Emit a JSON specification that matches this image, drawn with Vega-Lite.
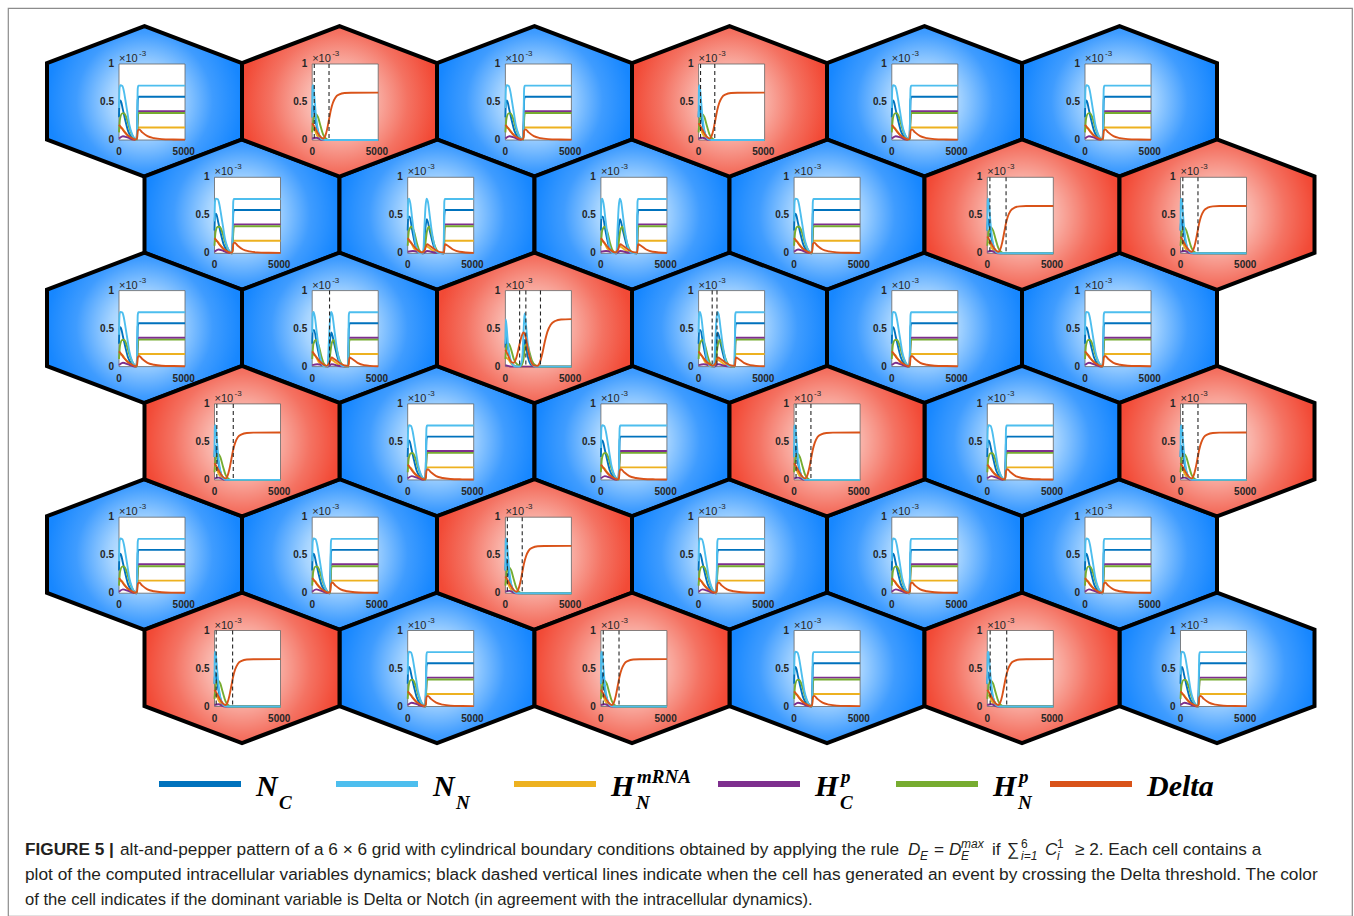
{
  "$schema": "https://vega.github.io/schema/vega-lite/v6.json",
  "width": 1354,
  "height": 916,
  "autosize": {"type": "fit", "contains": "padding"},
  "padding": {"left": 8, "top": 8, "right": 2, "bottom": 0},
  "background": "white",
  "config": {"view": {"stroke": "#8c8c8c", "strokeWidth": 1.2}},
  "datasets": {
    "cells": [
      {"i":0,"r":0,"c":0,"k":"N1"},{"i":1,"r":0,"c":1,"k":"D1"},{"i":2,"r":0,"c":2,"k":"N1"},{"i":3,"r":0,"c":3,"k":"D1"},{"i":4,"r":0,"c":4,"k":"N1"},{"i":5,"r":0,"c":5,"k":"N1"},
      {"i":6,"r":1,"c":0,"k":"N1"},{"i":7,"r":1,"c":1,"k":"N2"},{"i":8,"r":1,"c":2,"k":"N2"},{"i":9,"r":1,"c":3,"k":"N1"},{"i":10,"r":1,"c":4,"k":"D1"},{"i":11,"r":1,"c":5,"k":"D1"},
      {"i":12,"r":2,"c":0,"k":"N1"},{"i":13,"r":2,"c":1,"k":"N2"},{"i":14,"r":2,"c":2,"k":"D3"},{"i":15,"r":2,"c":3,"k":"N2"},{"i":16,"r":2,"c":4,"k":"N1"},{"i":17,"r":2,"c":5,"k":"N1"},
      {"i":18,"r":3,"c":0,"k":"D1"},{"i":19,"r":3,"c":1,"k":"N1"},{"i":20,"r":3,"c":2,"k":"N1"},{"i":21,"r":3,"c":3,"k":"D1"},{"i":22,"r":3,"c":4,"k":"N1"},{"i":23,"r":3,"c":5,"k":"D1"},
      {"i":24,"r":4,"c":0,"k":"N1"},{"i":25,"r":4,"c":1,"k":"N1"},{"i":26,"r":4,"c":2,"k":"D1"},{"i":27,"r":4,"c":3,"k":"N1"},{"i":28,"r":4,"c":4,"k":"N1"},{"i":29,"r":4,"c":5,"k":"N1"},
      {"i":30,"r":5,"c":0,"k":"D1"},{"i":31,"r":5,"c":1,"k":"N1"},{"i":32,"r":5,"c":2,"k":"D1"},{"i":33,"r":5,"c":3,"k":"N1"},{"i":34,"r":5,"c":4,"k":"D1"},{"i":35,"r":5,"c":5,"k":"N1"}
    ],
    "groups": [
      {"k":"N1","ids":[0,2,4,5,6,9,12,16,17,19,20,22,24,25,27,28,29,31,33,35]},
      {"k":"N2","ids":[7,8,13,15]},
      {"k":"D1","ids":[1,3,10,11,18,21,23,26,30,32,34]},
      {"k":"D3","ids":[14]}
    ],
    "events": [
      {"i":1,"t":160},{"i":1,"t":1300},{"i":3,"t":150},{"i":3,"t":1250},{"i":10,"t":200},{"i":10,"t":1450},{"i":11,"t":180},{"i":11,"t":1350},
      {"i":18,"t":180},{"i":18,"t":1450},{"i":21,"t":150},{"i":21,"t":1300},{"i":23,"t":180},{"i":23,"t":1350},{"i":26,"t":150},{"i":26,"t":1300},
      {"i":30,"t":130},{"i":30,"t":1400},{"i":32,"t":180},{"i":32,"t":1400},{"i":34,"t":220},{"i":34,"t":1500},
      {"i":14,"t":1100},{"i":14,"t":1580},{"i":14,"t":2710},{"i":13,"t":1340},{"i":15,"t":1050},{"i":15,"t":1420}
    ],
    "series": [
      {"k":"N1","s":"NC","t":0,"v":0.3},{"k":"N1","s":"NC","t":40,"v":0.5},{"k":"N1","s":"NC","t":120,"v":0.52},{"k":"N1","s":"NC","t":300,"v":0.4},{"k":"N1","s":"NC","t":500,"v":0.25},{"k":"N1","s":"NC","t":700,"v":0.12},{"k":"N1","s":"NC","t":900,"v":0.05},{"k":"N1","s":"NC","t":1150,"v":0.01},{"k":"N1","s":"NC","t":1360,"v":0},{"k":"N1","s":"NC","t":1410,"v":0.25},{"k":"N1","s":"NC","t":1450,"v":0.53},{"k":"N1","s":"NC","t":1510,"v":0.57},{"k":"N1","s":"NC","t":5100,"v":0.57},
      {"k":"N1","s":"HNm","t":0,"v":0.16},{"k":"N1","s":"HNm","t":200,"v":0.16},{"k":"N1","s":"HNm","t":400,"v":0.12},{"k":"N1","s":"HNm","t":700,"v":0.05},{"k":"N1","s":"HNm","t":1000,"v":0.01},{"k":"N1","s":"HNm","t":1350,"v":0},{"k":"N1","s":"HNm","t":1400,"v":0.08},{"k":"N1","s":"HNm","t":1440,"v":0.16},{"k":"N1","s":"HNm","t":1500,"v":0.165},{"k":"N1","s":"HNm","t":5100,"v":0.165},
      {"k":"N1","s":"HCp","t":0,"v":0.02},{"k":"N1","s":"HCp","t":300,"v":0.05},{"k":"N1","s":"HCp","t":700,"v":0.03},{"k":"N1","s":"HCp","t":1100,"v":0.005},{"k":"N1","s":"HCp","t":1360,"v":0},{"k":"N1","s":"HCp","t":1420,"v":0.2},{"k":"N1","s":"HCp","t":1470,"v":0.37},{"k":"N1","s":"HCp","t":1530,"v":0.38},{"k":"N1","s":"HCp","t":5100,"v":0.38},
      {"k":"N1","s":"HNp","t":0,"v":0.1},{"k":"N1","s":"HNp","t":80,"v":0.28},{"k":"N1","s":"HNp","t":250,"v":0.35},{"k":"N1","s":"HNp","t":400,"v":0.35},{"k":"N1","s":"HNp","t":600,"v":0.28},{"k":"N1","s":"HNp","t":800,"v":0.16},{"k":"N1","s":"HNp","t":1000,"v":0.07},{"k":"N1","s":"HNp","t":1200,"v":0.02},{"k":"N1","s":"HNp","t":1380,"v":0},{"k":"N1","s":"HNp","t":1430,"v":0.2},{"k":"N1","s":"HNp","t":1480,"v":0.34},{"k":"N1","s":"HNp","t":1540,"v":0.355},{"k":"N1","s":"HNp","t":5100,"v":0.355},
      {"k":"N1","s":"NN","t":0,"v":0.42},{"k":"N1","s":"NN","t":40,"v":0.68},{"k":"N1","s":"NN","t":100,"v":0.72},{"k":"N1","s":"NN","t":260,"v":0.71},{"k":"N1","s":"NN","t":380,"v":0.64},{"k":"N1","s":"NN","t":500,"v":0.52},{"k":"N1","s":"NN","t":650,"v":0.36},{"k":"N1","s":"NN","t":800,"v":0.2},{"k":"N1","s":"NN","t":1000,"v":0.08},{"k":"N1","s":"NN","t":1200,"v":0.015},{"k":"N1","s":"NN","t":1350,"v":0},{"k":"N1","s":"NN","t":1390,"v":0.1},{"k":"N1","s":"NN","t":1420,"v":0.45},{"k":"N1","s":"NN","t":1450,"v":0.68},{"k":"N1","s":"NN","t":1500,"v":0.715},{"k":"N1","s":"NN","t":5100,"v":0.715},
      {"k":"N1","s":"Delta","t":0,"v":0.2},{"k":"N1","s":"Delta","t":150,"v":0.17},{"k":"N1","s":"Delta","t":400,"v":0.11},{"k":"N1","s":"Delta","t":700,"v":0.06},{"k":"N1","s":"Delta","t":1000,"v":0.025},{"k":"N1","s":"Delta","t":1300,"v":0.005},{"k":"N1","s":"Delta","t":1400,"v":0.03},{"k":"N1","s":"Delta","t":1450,"v":0.12},{"k":"N1","s":"Delta","t":1550,"v":0.14},{"k":"N1","s":"Delta","t":1800,"v":0.1},{"k":"N1","s":"Delta","t":2200,"v":0.05},{"k":"N1","s":"Delta","t":2700,"v":0.025},{"k":"N1","s":"Delta","t":3300,"v":0.012},{"k":"N1","s":"Delta","t":4200,"v":0.007},{"k":"N1","s":"Delta","t":5100,"v":0.005},

      {"k":"N2","s":"NC","t":0,"v":0.3},{"k":"N2","s":"NC","t":40,"v":0.48},{"k":"N2","s":"NC","t":150,"v":0.48},{"k":"N2","s":"NC","t":350,"v":0.3},{"k":"N2","s":"NC","t":600,"v":0.1},{"k":"N2","s":"NC","t":900,"v":0.01},{"k":"N2","s":"NC","t":1200,"v":0},{"k":"N2","s":"NC","t":1350,"v":0.3},{"k":"N2","s":"NC","t":1480,"v":0.45},{"k":"N2","s":"NC","t":1700,"v":0.3},{"k":"N2","s":"NC","t":2000,"v":0.1},{"k":"N2","s":"NC","t":2300,"v":0.01},{"k":"N2","s":"NC","t":2780,"v":0},{"k":"N2","s":"NC","t":2830,"v":0.5},{"k":"N2","s":"NC","t":2890,"v":0.57},{"k":"N2","s":"NC","t":5100,"v":0.57},
      {"k":"N2","s":"HNm","t":0,"v":0.16},{"k":"N2","s":"HNm","t":200,"v":0.15},{"k":"N2","s":"HNm","t":500,"v":0.06},{"k":"N2","s":"HNm","t":900,"v":0.005},{"k":"N2","s":"HNm","t":1200,"v":0},{"k":"N2","s":"HNm","t":1400,"v":0.1},{"k":"N2","s":"HNm","t":1600,"v":0.08},{"k":"N2","s":"HNm","t":2000,"v":0.03},{"k":"N2","s":"HNm","t":2400,"v":0.005},{"k":"N2","s":"HNm","t":2780,"v":0},{"k":"N2","s":"HNm","t":2820,"v":0.12},{"k":"N2","s":"HNm","t":2860,"v":0.165},{"k":"N2","s":"HNm","t":5100,"v":0.165},
      {"k":"N2","s":"HCp","t":0,"v":0.02},{"k":"N2","s":"HCp","t":400,"v":0.03},{"k":"N2","s":"HCp","t":1200,"v":0},{"k":"N2","s":"HCp","t":1500,"v":0.03},{"k":"N2","s":"HCp","t":2200,"v":0.005},{"k":"N2","s":"HCp","t":2790,"v":0},{"k":"N2","s":"HCp","t":2850,"v":0.37},{"k":"N2","s":"HCp","t":2910,"v":0.38},{"k":"N2","s":"HCp","t":5100,"v":0.38},
      {"k":"N2","s":"HNp","t":0,"v":0.1},{"k":"N2","s":"HNp","t":100,"v":0.3},{"k":"N2","s":"HNp","t":300,"v":0.35},{"k":"N2","s":"HNp","t":500,"v":0.28},{"k":"N2","s":"HNp","t":700,"v":0.14},{"k":"N2","s":"HNp","t":900,"v":0.04},{"k":"N2","s":"HNp","t":1150,"v":0.005},{"k":"N2","s":"HNp","t":1300,"v":0.05},{"k":"N2","s":"HNp","t":1500,"v":0.3},{"k":"N2","s":"HNp","t":1650,"v":0.35},{"k":"N2","s":"HNp","t":1850,"v":0.25},{"k":"N2","s":"HNp","t":2050,"v":0.12},{"k":"N2","s":"HNp","t":2250,"v":0.04},{"k":"N2","s":"HNp","t":2500,"v":0.005},{"k":"N2","s":"HNp","t":2790,"v":0},{"k":"N2","s":"HNp","t":2840,"v":0.3},{"k":"N2","s":"HNp","t":2900,"v":0.355},{"k":"N2","s":"HNp","t":5100,"v":0.355},
      {"k":"N2","s":"NN","t":0,"v":0.45},{"k":"N2","s":"NN","t":40,"v":0.7},{"k":"N2","s":"NN","t":100,"v":0.72},{"k":"N2","s":"NN","t":200,"v":0.66},{"k":"N2","s":"NN","t":350,"v":0.45},{"k":"N2","s":"NN","t":500,"v":0.25},{"k":"N2","s":"NN","t":650,"v":0.1},{"k":"N2","s":"NN","t":800,"v":0.02},{"k":"N2","s":"NN","t":950,"v":0},{"k":"N2","s":"NN","t":1200,"v":0.005},{"k":"N2","s":"NN","t":1280,"v":0.3},{"k":"N2","s":"NN","t":1380,"v":0.62},{"k":"N2","s":"NN","t":1460,"v":0.72},{"k":"N2","s":"NN","t":1560,"v":0.68},{"k":"N2","s":"NN","t":1700,"v":0.5},{"k":"N2","s":"NN","t":1850,"v":0.3},{"k":"N2","s":"NN","t":2000,"v":0.15},{"k":"N2","s":"NN","t":2150,"v":0.05},{"k":"N2","s":"NN","t":2300,"v":0.01},{"k":"N2","s":"NN","t":2770,"v":0},{"k":"N2","s":"NN","t":2800,"v":0.3},{"k":"N2","s":"NN","t":2830,"v":0.68},{"k":"N2","s":"NN","t":2880,"v":0.715},{"k":"N2","s":"NN","t":5100,"v":0.715},
      {"k":"N2","s":"Delta","t":0,"v":0.2},{"k":"N2","s":"Delta","t":300,"v":0.13},{"k":"N2","s":"Delta","t":700,"v":0.05},{"k":"N2","s":"Delta","t":1100,"v":0.01},{"k":"N2","s":"Delta","t":1300,"v":0.04},{"k":"N2","s":"Delta","t":1500,"v":0.12},{"k":"N2","s":"Delta","t":1700,"v":0.1},{"k":"N2","s":"Delta","t":2100,"v":0.05},{"k":"N2","s":"Delta","t":2500,"v":0.015},{"k":"N2","s":"Delta","t":2800,"v":0.01},{"k":"N2","s":"Delta","t":2880,"v":0.12},{"k":"N2","s":"Delta","t":3100,"v":0.1},{"k":"N2","s":"Delta","t":3500,"v":0.05},{"k":"N2","s":"Delta","t":4000,"v":0.02},{"k":"N2","s":"Delta","t":5100,"v":0.005},

      {"k":"D1","s":"NC","t":0,"v":0.3},{"k":"D1","s":"NC","t":40,"v":0.45},{"k":"D1","s":"NC","t":120,"v":0.42},{"k":"D1","s":"NC","t":300,"v":0.22},{"k":"D1","s":"NC","t":500,"v":0.08},{"k":"D1","s":"NC","t":700,"v":0.02},{"k":"D1","s":"NC","t":1000,"v":0},{"k":"D1","s":"NC","t":5100,"v":0},
      {"k":"D1","s":"HNm","t":0,"v":0.15},{"k":"D1","s":"HNm","t":150,"v":0.14},{"k":"D1","s":"HNm","t":350,"v":0.07},{"k":"D1","s":"HNm","t":600,"v":0.02},{"k":"D1","s":"HNm","t":900,"v":0},{"k":"D1","s":"HNm","t":5100,"v":0},
      {"k":"D1","s":"HCp","t":0,"v":0.02},{"k":"D1","s":"HCp","t":300,"v":0.03},{"k":"D1","s":"HCp","t":800,"v":0},{"k":"D1","s":"HCp","t":5100,"v":0},
      {"k":"D1","s":"HNp","t":0,"v":0.1},{"k":"D1","s":"HNp","t":100,"v":0.28},{"k":"D1","s":"HNp","t":300,"v":0.34},{"k":"D1","s":"HNp","t":450,"v":0.3},{"k":"D1","s":"HNp","t":650,"v":0.18},{"k":"D1","s":"HNp","t":850,"v":0.07},{"k":"D1","s":"HNp","t":1050,"v":0.02},{"k":"D1","s":"HNp","t":1300,"v":0},{"k":"D1","s":"HNp","t":5100,"v":0},
      {"k":"D1","s":"NN","t":0,"v":0.3},{"k":"D1","s":"NN","t":30,"v":0.7},{"k":"D1","s":"NN","t":80,"v":0.72},{"k":"D1","s":"NN","t":150,"v":0.6},{"k":"D1","s":"NN","t":300,"v":0.3},{"k":"D1","s":"NN","t":450,"v":0.12},{"k":"D1","s":"NN","t":600,"v":0.04},{"k":"D1","s":"NN","t":800,"v":0.005},{"k":"D1","s":"NN","t":1000,"v":0},{"k":"D1","s":"NN","t":5100,"v":0},
      {"k":"D1","s":"Delta","t":0,"v":0.22},{"k":"D1","s":"Delta","t":150,"v":0.18},{"k":"D1","s":"Delta","t":400,"v":0.1},{"k":"D1","s":"Delta","t":650,"v":0.04},{"k":"D1","s":"Delta","t":850,"v":0.02},{"k":"D1","s":"Delta","t":1000,"v":0.05},{"k":"D1","s":"Delta","t":1150,"v":0.14},{"k":"D1","s":"Delta","t":1300,"v":0.27},{"k":"D1","s":"Delta","t":1450,"v":0.4},{"k":"D1","s":"Delta","t":1600,"v":0.49},{"k":"D1","s":"Delta","t":1800,"v":0.56},{"k":"D1","s":"Delta","t":2100,"v":0.6},{"k":"D1","s":"Delta","t":2500,"v":0.618},{"k":"D1","s":"Delta","t":3000,"v":0.622},{"k":"D1","s":"Delta","t":5100,"v":0.623},

      {"k":"D3","s":"NC","t":0,"v":0.25},{"k":"D3","s":"NC","t":40,"v":0.4},{"k":"D3","s":"NC","t":150,"v":0.3},{"k":"D3","s":"NC","t":350,"v":0.1},{"k":"D3","s":"NC","t":600,"v":0.02},{"k":"D3","s":"NC","t":900,"v":0},{"k":"D3","s":"NC","t":1300,"v":0.05},{"k":"D3","s":"NC","t":1450,"v":0.35},{"k":"D3","s":"NC","t":1550,"v":0.3},{"k":"D3","s":"NC","t":1750,"v":0.12},{"k":"D3","s":"NC","t":2000,"v":0.02},{"k":"D3","s":"NC","t":2300,"v":0},{"k":"D3","s":"NC","t":5100,"v":0},
      {"k":"D3","s":"HNm","t":0,"v":0.12},{"k":"D3","s":"HNm","t":200,"v":0.1},{"k":"D3","s":"HNm","t":500,"v":0.03},{"k":"D3","s":"HNm","t":900,"v":0},{"k":"D3","s":"HNm","t":5100,"v":0},
      {"k":"D3","s":"HCp","t":0,"v":0.02},{"k":"D3","s":"HCp","t":500,"v":0},{"k":"D3","s":"HCp","t":5100,"v":0},
      {"k":"D3","s":"HNp","t":0,"v":0.1},{"k":"D3","s":"HNp","t":100,"v":0.28},{"k":"D3","s":"HNp","t":250,"v":0.3},{"k":"D3","s":"HNp","t":450,"v":0.22},{"k":"D3","s":"HNp","t":650,"v":0.1},{"k":"D3","s":"HNp","t":900,"v":0.03},{"k":"D3","s":"HNp","t":1200,"v":0.01},{"k":"D3","s":"HNp","t":1400,"v":0.1},{"k":"D3","s":"HNp","t":1550,"v":0.28},{"k":"D3","s":"HNp","t":1700,"v":0.3},{"k":"D3","s":"HNp","t":1850,"v":0.2},{"k":"D3","s":"HNp","t":2050,"v":0.08},{"k":"D3","s":"HNp","t":2300,"v":0.02},{"k":"D3","s":"HNp","t":2600,"v":0},{"k":"D3","s":"HNp","t":5100,"v":0},
      {"k":"D3","s":"NN","t":0,"v":0.3},{"k":"D3","s":"NN","t":20,"v":0.62},{"k":"D3","s":"NN","t":80,"v":0.55},{"k":"D3","s":"NN","t":200,"v":0.3},{"k":"D3","s":"NN","t":350,"v":0.12},{"k":"D3","s":"NN","t":500,"v":0.04},{"k":"D3","s":"NN","t":700,"v":0.005},{"k":"D3","s":"NN","t":1100,"v":0},{"k":"D3","s":"NN","t":1300,"v":0.1},{"k":"D3","s":"NN","t":1400,"v":0.45},{"k":"D3","s":"NN","t":1480,"v":0.7},{"k":"D3","s":"NN","t":1560,"v":0.6},{"k":"D3","s":"NN","t":1700,"v":0.35},{"k":"D3","s":"NN","t":1850,"v":0.15},{"k":"D3","s":"NN","t":2000,"v":0.05},{"k":"D3","s":"NN","t":2200,"v":0.01},{"k":"D3","s":"NN","t":2400,"v":0},{"k":"D3","s":"NN","t":5100,"v":0},
      {"k":"D3","s":"Delta","t":0,"v":0.22},{"k":"D3","s":"Delta","t":200,"v":0.15},{"k":"D3","s":"Delta","t":450,"v":0.06},{"k":"D3","s":"Delta","t":650,"v":0.05},{"k":"D3","s":"Delta","t":850,"v":0.12},{"k":"D3","s":"Delta","t":1050,"v":0.26},{"k":"D3","s":"Delta","t":1250,"v":0.4},{"k":"D3","s":"Delta","t":1400,"v":0.45},{"k":"D3","s":"Delta","t":1550,"v":0.4},{"k":"D3","s":"Delta","t":1750,"v":0.22},{"k":"D3","s":"Delta","t":1950,"v":0.08},{"k":"D3","s":"Delta","t":2150,"v":0.02},{"k":"D3","s":"Delta","t":2450,"v":0.01},{"k":"D3","s":"Delta","t":2650,"v":0.05},{"k":"D3","s":"Delta","t":2850,"v":0.17},{"k":"D3","s":"Delta","t":3050,"v":0.33},{"k":"D3","s":"Delta","t":3250,"v":0.46},{"k":"D3","s":"Delta","t":3500,"v":0.55},{"k":"D3","s":"Delta","t":3850,"v":0.6},{"k":"D3","s":"Delta","t":4300,"v":0.62},{"k":"D3","s":"Delta","t":5100,"v":0.625}
    ],
    "legend": [
      {"s":"NC","idx":0,"main":"N","sub":"C","sup":""},
      {"s":"NN","idx":1,"main":"N","sub":"N","sup":""},
      {"s":"HNm","idx":2,"main":"H","sub":"N","sup":"mRNA"},
      {"s":"HCp","idx":3,"main":"H","sub":"C","sup":"p"},
      {"s":"HNp","idx":4,"main":"H","sub":"N","sup":"p"},
      {"s":"Delta","idx":5,"main":"Delta","sub":"","sup":""}
    ],
    "caption": [
      {"seg":0,"ln":0,"sty":"b","pos":"n","text":"FIGURE 5 |"},
      {"seg":1,"ln":0,"sty":"r","pos":"n","text":"alt-and-pepper pattern of a 6 × 6 grid with cylindrical boundary conditions obtained by applying the rule"},
      {"seg":2,"ln":0,"sty":"i","pos":"n","text":"D"},
      {"seg":3,"ln":0,"sty":"i","pos":"sub","text":"E"},
      {"seg":4,"ln":0,"sty":"r","pos":"n","text":"="},
      {"seg":5,"ln":0,"sty":"i","pos":"n","text":"D"},
      {"seg":6,"ln":0,"sty":"i","pos":"sub","text":"E"},
      {"seg":7,"ln":0,"sty":"i","pos":"sup","text":"max"},
      {"seg":8,"ln":0,"sty":"r","pos":"n","text":"if"},
      {"seg":9,"ln":0,"sty":"r","pos":"n","text":"∑"},
      {"seg":10,"ln":0,"sty":"r","pos":"sup","text":"6"},
      {"seg":11,"ln":0,"sty":"i","pos":"sub","text":"i=1"},
      {"seg":12,"ln":0,"sty":"i","pos":"n","text":"C"},
      {"seg":13,"ln":0,"sty":"i","pos":"sub","text":"i"},
      {"seg":14,"ln":0,"sty":"r","pos":"sup","text":"1"},
      {"seg":15,"ln":0,"sty":"r","pos":"n","text":"≥ 2. Each cell contains a"},
      {"seg":16,"ln":1,"sty":"r","pos":"n","text":"plot of the computed intracellular variables dynamics; black dashed vertical lines indicate when the cell has generated an event by crossing the Delta threshold. The color"},
      {"seg":17,"ln":2,"sty":"r","pos":"n","text":"of the cell indicates if the dominant variable is Delta or Notch (in agreement with the intracellular dynamics)."}
    ]
  },
  "layer": [
    {
      "data": {"name": "cells"},
      "transform": [
        {"filter": "indexof(datum.k, 'N') == 0"},
        {"calculate": "144.5 + 195 * datum.c + 97.5 * (datum.r % 2)", "as": "hx"},
        {"calculate": "101.3 + 113.3 * datum.r", "as": "hy"}
      ],
      "mark": {
        "type": "point", "shape": "M0,-0.7718L1,-0.3923L1,0.3923L0,0.7718L-1,0.3923L-1,-0.3923Z",
        "size": 38025, "filled": true, "opacity": 1, "stroke": "#000000", "strokeWidth": 4, "strokeJoin": "miter",
        "fill": {"gradient": "radial", "x1": 0.5, "y1": 0.5, "r1": 0, "x2": 0.5, "y2": 0.5, "r2": 0.5,
          "stops": [{"offset": 0, "color": "#f0f8ff"}, {"offset": 0.35, "color": "#a6d4ff"}, {"offset": 0.7, "color": "#3f9cff"}, {"offset": 1, "color": "#1787ff"}]}
      },
      "encoding": {
        "x": {"field": "hx", "type": "quantitative", "scale": {"domain": [8, 1352], "nice": false, "zero": false}, "axis": null},
        "y": {"field": "hy", "type": "quantitative", "scale": {"domain": [8, 916], "nice": false, "zero": false, "reverse": true}, "axis": null}
      }
    },
    {
      "data": {"name": "cells"},
      "transform": [
        {"filter": "indexof(datum.k, 'D') == 0"},
        {"calculate": "144.5 + 195 * datum.c + 97.5 * (datum.r % 2)", "as": "hx"},
        {"calculate": "101.3 + 113.3 * datum.r", "as": "hy"}
      ],
      "mark": {
        "type": "point", "shape": "M0,-0.7718L1,-0.3923L1,0.3923L0,0.7718L-1,0.3923L-1,-0.3923Z",
        "size": 38025, "filled": true, "opacity": 1, "stroke": "#000000", "strokeWidth": 4, "strokeJoin": "miter",
        "fill": {"gradient": "radial", "x1": 0.5, "y1": 0.5, "r1": 0, "x2": 0.5, "y2": 0.5, "r2": 0.5,
          "stops": [{"offset": 0, "color": "#fde8e5"}, {"offset": 0.35, "color": "#f9b3a9"}, {"offset": 0.7, "color": "#f47262"}, {"offset": 1, "color": "#f24a36"}]}
      },
      "encoding": {
        "x": {"field": "hx", "type": "quantitative", "scale": {"domain": [8, 1352], "nice": false, "zero": false}, "axis": null},
        "y": {"field": "hy", "type": "quantitative", "scale": {"domain": [8, 916], "nice": false, "zero": false, "reverse": true}, "axis": null}
      }
    },
    {
      "data": {"name": "cells"},
      "transform": [
        {"calculate": "119 + 193.2 * datum.c + 95.5 * (datum.r % 2)", "as": "bx0"},
        {"calculate": "datum.bx0 + 66", "as": "bx1"},
        {"calculate": "64 + 113.3 * datum.r", "as": "by0"},
        {"calculate": "datum.by0 + 76", "as": "by1"}
      ],
      "mark": {"type": "rect", "fill": "#ffffff", "stroke": "#666666", "strokeWidth": 0.8},
      "encoding": {
        "x": {"field": "bx0", "type": "quantitative", "scale": {"domain": [8, 1352], "nice": false, "zero": false}, "axis": null},
        "x2": {"field": "bx1"},
        "y": {"field": "by0", "type": "quantitative", "scale": {"domain": [8, 916], "nice": false, "zero": false, "reverse": true}, "axis": null},
        "y2": {"field": "by1"}
      }
    },
    {
      "data": {"name": "series"},
      "transform": [
        {"lookup": "k", "from": {"data": {"name": "groups"}, "key": "k", "fields": ["ids"]}},
        {"flatten": ["ids"], "as": ["i"]},
        {"calculate": "floor(datum.i / 6)", "as": "r"},
        {"calculate": "datum.i % 6", "as": "c"},
        {"calculate": "119 + 193.2 * datum.c + 95.5 * (datum.r % 2) + datum.t / 5100 * 66", "as": "gx"},
        {"calculate": "64 + 113.3 * datum.r + (1 - datum.v) * 76", "as": "gy"}
      ],
      "mark": {"type": "line", "strokeWidth": 1.9, "interpolate": "monotone"},
      "encoding": {
        "x": {"field": "gx", "type": "quantitative", "scale": {"domain": [8, 1352], "nice": false, "zero": false}, "axis": null},
        "y": {"field": "gy", "type": "quantitative", "scale": {"domain": [8, 916], "nice": false, "zero": false, "reverse": true}, "axis": null},
        "color": {"field": "s", "type": "nominal", "scale": {"domain": ["NC", "NN", "HNm", "HCp", "HNp", "Delta"], "range": ["#0072BD", "#4DBEEE", "#EDB120", "#7E2F8E", "#77AC30", "#D95319"]}, "legend": null},
        "detail": {"field": "i", "type": "nominal"}
      }
    },
    {
      "data": {"name": "events"},
      "transform": [
        {"calculate": "floor(datum.i / 6)", "as": "r"},
        {"calculate": "datum.i % 6", "as": "c"},
        {"calculate": "119 + 193.2 * datum.c + 95.5 * (datum.r % 2) + datum.t / 5100 * 66", "as": "gx"},
        {"calculate": "64 + 113.3 * datum.r", "as": "by0"},
        {"calculate": "datum.by0 + 76", "as": "by1"}
      ],
      "mark": {"type": "rule", "color": "#262626", "strokeWidth": 1.1, "strokeDash": [4, 3]},
      "encoding": {
        "x": {"field": "gx", "type": "quantitative", "scale": {"domain": [8, 1352], "nice": false, "zero": false}, "axis": null},
        "y": {"field": "by0", "type": "quantitative", "scale": {"domain": [8, 916], "nice": false, "zero": false, "reverse": true}, "axis": null},
        "y2": {"field": "by1"}
      }
    },
    {
      "data": {"name": "cells"},
      "transform": [
        {"calculate": "119 + 193.2 * datum.c + 95.5 * (datum.r % 2)", "as": "bx0"},
        {"calculate": "64 + 113.3 * datum.r", "as": "by0"},
        {"calculate": "datum.by0 + 76", "as": "by1"},
        {"calculate": "datum.by0 + 38", "as": "bym"},
        {"calculate": "datum.bx0 - 5", "as": "tlx"},
        {"calculate": "datum.by1 + 12", "as": "xly"},
        {"calculate": "datum.bx0 + 5000 / 5100 * 66", "as": "x5k"},
        {"calculate": "datum.bx0", "as": "ex"},
        {"calculate": "datum.by0 - 5", "as": "ey"},
        {"calculate": "datum.bx0 + 20", "as": "ex2"},
        {"calculate": "datum.by0 - 10", "as": "ey2"}
      ],
      "layer": [
        {
          "mark": {"type": "text", "text": "1", "align": "right", "baseline": "middle", "font": "Liberation Sans", "fontWeight": "bold", "fontSize": 10, "color": "#262626"},
          "encoding": {
            "x": {"field": "tlx", "type": "quantitative", "scale": {"domain": [8, 1352], "nice": false, "zero": false}, "axis": null},
            "y": {"field": "by0", "type": "quantitative", "scale": {"domain": [8, 916], "nice": false, "zero": false, "reverse": true}, "axis": null}
          }
        },
        {
          "mark": {"type": "text", "text": "0.5", "align": "right", "baseline": "middle", "font": "Liberation Sans", "fontWeight": "bold", "fontSize": 10, "color": "#262626"},
          "encoding": {
            "x": {"field": "tlx", "type": "quantitative", "scale": {"domain": [8, 1352], "nice": false, "zero": false}, "axis": null},
            "y": {"field": "bym", "type": "quantitative", "scale": {"domain": [8, 916], "nice": false, "zero": false, "reverse": true}, "axis": null}
          }
        },
        {
          "mark": {"type": "text", "text": "0", "align": "right", "baseline": "middle", "font": "Liberation Sans", "fontWeight": "bold", "fontSize": 10, "color": "#262626"},
          "encoding": {
            "x": {"field": "tlx", "type": "quantitative", "scale": {"domain": [8, 1352], "nice": false, "zero": false}, "axis": null},
            "y": {"field": "by1", "type": "quantitative", "scale": {"domain": [8, 916], "nice": false, "zero": false, "reverse": true}, "axis": null}
          }
        },
        {
          "mark": {"type": "text", "text": "0", "align": "center", "baseline": "middle", "font": "Liberation Sans", "fontWeight": "bold", "fontSize": 10, "color": "#262626"},
          "encoding": {
            "x": {"field": "bx0", "type": "quantitative", "scale": {"domain": [8, 1352], "nice": false, "zero": false}, "axis": null},
            "y": {"field": "xly", "type": "quantitative", "scale": {"domain": [8, 916], "nice": false, "zero": false, "reverse": true}, "axis": null}
          }
        },
        {
          "mark": {"type": "text", "text": "5000", "align": "center", "baseline": "middle", "font": "Liberation Sans", "fontWeight": "bold", "fontSize": 10, "color": "#262626"},
          "encoding": {
            "x": {"field": "x5k", "type": "quantitative", "scale": {"domain": [8, 1352], "nice": false, "zero": false}, "axis": null},
            "y": {"field": "xly", "type": "quantitative", "scale": {"domain": [8, 916], "nice": false, "zero": false, "reverse": true}, "axis": null}
          }
        },
        {
          "mark": {"type": "text", "text": "×10", "align": "left", "baseline": "middle", "font": "Liberation Sans", "fontSize": 11, "color": "#262626"},
          "encoding": {
            "x": {"field": "ex", "type": "quantitative", "scale": {"domain": [8, 1352], "nice": false, "zero": false}, "axis": null},
            "y": {"field": "ey", "type": "quantitative", "scale": {"domain": [8, 916], "nice": false, "zero": false, "reverse": true}, "axis": null}
          }
        },
        {
          "mark": {"type": "text", "text": "-3", "align": "left", "baseline": "middle", "font": "Liberation Sans", "fontSize": 8, "color": "#262626"},
          "encoding": {
            "x": {"field": "ex2", "type": "quantitative", "scale": {"domain": [8, 1352], "nice": false, "zero": false}, "axis": null},
            "y": {"field": "ey2", "type": "quantitative", "scale": {"domain": [8, 916], "nice": false, "zero": false, "reverse": true}, "axis": null}
          }
        }
      ]
    },
    {
      "data": {"name": "legend"},
      "transform": [
        {"calculate": "[159, 336, 514, 718, 896, 1050][datum.idx]", "as": "lx0"},
        {"calculate": "datum.lx0 + 82", "as": "lx1"},
        {"calculate": "784", "as": "ly"},
        {"calculate": "datum.lx0 + 97", "as": "tx"},
        {"calculate": "datum.tx + (datum.main == 'H' ? 25 : 23)", "as": "subx"},
        {"calculate": "datum.tx + 26", "as": "supx"},
        {"calculate": "796", "as": "mainy"},
        {"calculate": "809", "as": "suby"},
        {"calculate": "783", "as": "supy"}
      ],
      "layer": [
        {
          "mark": {"type": "rule", "strokeWidth": 6},
          "encoding": {
            "x": {"field": "lx0", "type": "quantitative", "scale": {"domain": [8, 1352], "nice": false, "zero": false}, "axis": null},
            "x2": {"field": "lx1"},
            "y": {"field": "ly", "type": "quantitative", "scale": {"domain": [8, 916], "nice": false, "zero": false, "reverse": true}, "axis": null},
            "color": {"field": "s", "type": "nominal", "scale": {"domain": ["NC", "NN", "HNm", "HCp", "HNp", "Delta"], "range": ["#0072BD", "#4DBEEE", "#EDB120", "#7E2F8E", "#77AC30", "#D95319"]}, "legend": null}
          }
        },
        {
          "mark": {"type": "text", "align": "left", "baseline": "alphabetic", "font": "Liberation Serif", "fontWeight": "bold", "fontStyle": "italic", "fontSize": 30, "color": "#000000"},
          "encoding": {
            "x": {"field": "tx", "type": "quantitative", "scale": {"domain": [8, 1352], "nice": false, "zero": false}, "axis": null},
            "y": {"field": "mainy", "type": "quantitative", "scale": {"domain": [8, 916], "nice": false, "zero": false, "reverse": true}, "axis": null},
            "text": {"field": "main"}
          }
        },
        {
          "mark": {"type": "text", "align": "left", "baseline": "alphabetic", "font": "Liberation Serif", "fontWeight": "bold", "fontStyle": "italic", "fontSize": 19, "color": "#000000"},
          "encoding": {
            "x": {"field": "subx", "type": "quantitative", "scale": {"domain": [8, 1352], "nice": false, "zero": false}, "axis": null},
            "y": {"field": "suby", "type": "quantitative", "scale": {"domain": [8, 916], "nice": false, "zero": false, "reverse": true}, "axis": null},
            "text": {"field": "sub"}
          }
        },
        {
          "mark": {"type": "text", "align": "left", "baseline": "alphabetic", "font": "Liberation Serif", "fontWeight": "bold", "fontStyle": "italic", "fontSize": 19, "color": "#000000"},
          "encoding": {
            "x": {"field": "supx", "type": "quantitative", "scale": {"domain": [8, 1352], "nice": false, "zero": false}, "axis": null},
            "y": {"field": "supy", "type": "quantitative", "scale": {"domain": [8, 916], "nice": false, "zero": false, "reverse": true}, "axis": null},
            "text": {"field": "sup"}
          }
        }
      ]
    },
    {
      "data": {"name": "caption"},
      "transform": [
        {"calculate": "[25, 120, 908, 920, 934, 949, 961, 961, 992, 1007, 1021, 1021, 1045, 1057, 1057, 1075, 25, 25][datum.seg]", "as": "cx"},
        {"calculate": "855 + 25 * datum.ln + (datum.pos == 'sub' ? 4.5 : datum.pos == 'sup' ? -7.5 : 0)", "as": "cy"},
        {"calculate": "datum.pos != 'n' ? 12 : [17.2, 17.3, 16.6][datum.ln]", "as": "fs"}
      ],
      "layer": [
        {
          "transform": [{"filter": "datum.sty == 'b'"}],
          "mark": {"type": "text", "align": "left", "baseline": "alphabetic", "font": "Liberation Sans", "fontWeight": "bold", "color": "#231f20"},
          "encoding": {
            "x": {"field": "cx", "type": "quantitative", "scale": {"domain": [8, 1352], "nice": false, "zero": false}, "axis": null},
            "y": {"field": "cy", "type": "quantitative", "scale": {"domain": [8, 916], "nice": false, "zero": false, "reverse": true}, "axis": null},
            "size": {"field": "fs", "type": "quantitative", "scale": null, "legend": null},
            "text": {"field": "text"}
          }
        },
        {
          "transform": [{"filter": "datum.sty == 'r'"}],
          "mark": {"type": "text", "align": "left", "baseline": "alphabetic", "font": "Liberation Sans", "color": "#231f20"},
          "encoding": {
            "x": {"field": "cx", "type": "quantitative", "scale": {"domain": [8, 1352], "nice": false, "zero": false}, "axis": null},
            "y": {"field": "cy", "type": "quantitative", "scale": {"domain": [8, 916], "nice": false, "zero": false, "reverse": true}, "axis": null},
            "size": {"field": "fs", "type": "quantitative", "scale": null, "legend": null},
            "text": {"field": "text"}
          }
        },
        {
          "transform": [{"filter": "datum.sty == 'i'"}],
          "mark": {"type": "text", "align": "left", "baseline": "alphabetic", "font": "Liberation Sans", "fontStyle": "italic", "color": "#231f20"},
          "encoding": {
            "x": {"field": "cx", "type": "quantitative", "scale": {"domain": [8, 1352], "nice": false, "zero": false}, "axis": null},
            "y": {"field": "cy", "type": "quantitative", "scale": {"domain": [8, 916], "nice": false, "zero": false, "reverse": true}, "axis": null},
            "size": {"field": "fs", "type": "quantitative", "scale": null, "legend": null},
            "text": {"field": "text"}
          }
        }
      ]
    }
  ]
}
